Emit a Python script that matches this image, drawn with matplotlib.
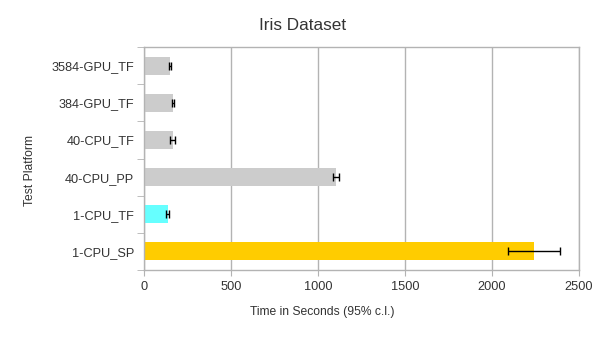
import matplotlib

matplotlib.use("Agg")

import matplotlib.pyplot as plt

# data (top to bottom as shown)
platforms = ["1-CPU_SP", "1-CPU_TF", "40-CPU_PP", "40-CPU_TF", "384-GPU_TF", "3584-GPU_TF"]
times = [2240, 136, 1103, 165, 165, 150]
errors = [150, 8, 15, 14, 5, 4]
colors = ["#ffcc00", "#66ffff", "#cccccc", "#cccccc", "#cccccc", "#cccccc"]

plt.rcParams["font.family"] = ["Liberation Sans", "DejaVu Sans"]
text_color = "#333333"
frame_color = "#b3b3b3"

fig = plt.figure(figsize=(6.05, 3.4), dpi=100)
ax = fig.add_axes([144 / 605, 1 - 270 / 340, (579 - 144) / 605, (270 - 47) / 340])

ypos = list(range(len(platforms)))
ax.barh(ypos, times, height=0.48, color=colors, zorder=2)
ax.errorbar(times, ypos, xerr=errors, fmt="none", ecolor="black",
            elinewidth=1, capsize=3, capthick=1, zorder=3)

ax.set_xlim(0, 2500)
ax.set_ylim(-0.5, len(platforms) - 0.5)
ax.set_xticks([0, 500, 1000, 1500, 2000, 2500])
ax.set_yticks(ypos)
ax.set_yticklabels(platforms)
ax.set_yticks([y + 0.5 for y in [-1] + ypos], minor=True)

ax.grid(axis="x", color=frame_color, linewidth=1, zorder=0)
for s in ax.spines.values():
    s.set_color(frame_color)
    s.set_linewidth(1)

ax.tick_params(axis="y", which="major", length=0, pad=7, labelsize=9.2, labelcolor=text_color)
ax.tick_params(axis="y", which="minor", length=5, color=frame_color)
ax.tick_params(axis="x", length=4, color=frame_color, labelsize=9.2, labelcolor=text_color, pad=4)

fig.text(0.5, 1 - 25.5 / 340, "Iris Dataset", ha="center", va="center",
         fontsize=12.3, color=text_color)
fig.text(322 / 605, 1 - 312 / 340, "Time in Seconds (95% c.l.)", ha="center",
         va="center", fontsize=8.75, color=text_color)
fig.text(30 / 605, 1 - 171 / 340, "Test Platform", ha="center", va="center",
         rotation=90, fontsize=8.75, color=text_color)

fig.savefig("out.png", dpi=100)
